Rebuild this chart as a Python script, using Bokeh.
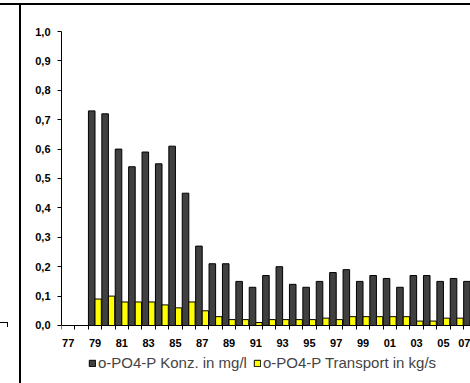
from bokeh.plotting import figure
from bokeh.models import (ColumnDataSource, Range1d, FixedTicker, Legend,
                          LegendItem, LinearAxis)
from bokeh.transform import dodge
from bokeh.embed import file_html
from bokeh.resources import INLINE

nan = float("nan")

years = ["77", "78", "79", "80", "81", "82", "83", "84", "85", "86",
         "87", "88", "89", "90", "91", "92", "93", "94", "95", "96",
         "97", "98", "99", "00", "01", "02", "03", "04", "05", "06", "07"]

konz = [nan, nan, 0.73, 0.72, 0.60, 0.54, 0.59, 0.55, 0.61, 0.45,
        0.27, 0.21, 0.21, 0.15, 0.13, 0.17, 0.20, 0.14, 0.13, 0.15,
        0.18, 0.19, 0.15, 0.17, 0.16, 0.13, 0.17, 0.17, 0.15, 0.16, 0.15]

transport = [nan, nan, 0.09, 0.10, 0.08, 0.08, 0.08, 0.07, 0.06, 0.08,
             0.05, 0.03, 0.02, 0.02, 0.01, 0.02, 0.02, 0.02, 0.02, 0.025,
             0.02, 0.03, 0.03, 0.03, 0.03, 0.03, 0.015, 0.015, 0.025, 0.025, 0.02]

y_ticks = [0.0, 0.1, 0.2, 0.3, 0.4, 0.5, 0.6, 0.7, 0.8, 0.9, 1.0]
y_tick_labels = ["0,0", "0,1", "0,2", "0,3", "0,4", "0,5",
                 "0,6", "0,7", "0,8", "0,9", "1,0"]

label_konz = "o-PO4-P Konz. in mg/l"
label_transport = "o-PO4-P Transport in kg/s"

FONT = "Liberation Sans"

idx = list(range(len(years)))
src = ColumnDataSource(dict(x=idx, konz=konz, transport=transport))

# frame lines of the surrounding document (page decoration, drawn by CSS)
page_lines = ("linear-gradient(#000,#000) 0px 3px / 470px 2px no-repeat, "
              "linear-gradient(#000,#000) 19px 3px / 2px 380px no-repeat, "
              "linear-gradient(#000,#000) 0px 322px / 8px 1px no-repeat, "
              "linear-gradient(#000,#000) 7px 322px / 1px 5px no-repeat, "
              "#ffffff")

p = figure(width=470, height=383, output_backend="svg", toolbar_location=None,
           x_range=Range1d(-0.5, 30.02), y_range=Range1d(-0.1973, 1.0),
           x_axis_location=None,
           min_border_left=61, min_border_right=0, min_border_top=31,
           min_border_bottom=0, outline_line_color=None,
           background_fill_alpha=0, border_fill_alpha=0,
           styles={"background": page_lines})
p.grid.visible = False

r1 = p.vbar(x=dodge("x", -0.245), top="konz", width=0.49, source=src,
            fill_color="#404040", line_color="black", line_width=1)
r2 = p.vbar(x=dodge("x", 0.235), top="transport", width=0.47, source=src,
            fill_color="#FFFF00", line_color="black", line_width=1)

# x axis at value 0: labels on every other year, tick marks on category boundaries
label_pos = idx[::2]
xa = LinearAxis(fixed_location=0)
xa.ticker = FixedTicker(ticks=label_pos, minor_ticks=[i - 0.5 for i in idx])
xa.major_label_overrides = {i: years[i] for i in label_pos}
xa.major_tick_line_color = None
xa.major_tick_out = 0
xa.major_tick_in = 0
xa.minor_tick_out = 4
xa.minor_tick_in = 0
xa.minor_tick_line_color = "black"
xa.axis_line_color = "black"
xa.major_label_text_font = FONT
xa.major_label_text_font_style = "bold"
xa.major_label_text_font_size = "11px"
xa.major_label_text_color = "black"
xa.major_label_standoff = 10
p.add_layout(xa, "below")

ya = p.yaxis[0]
ya.ticker = FixedTicker(ticks=y_ticks)
ya.bounds = (0, 1)
ya.major_label_overrides = {t: s for t, s in zip(y_ticks, y_tick_labels)}
ya.major_tick_out = 4
ya.major_tick_in = 0
ya.minor_tick_line_color = None
ya.axis_line_color = "black"
ya.major_tick_line_color = "black"
ya.major_label_text_font = FONT
ya.major_label_text_font_style = "bold"
ya.major_label_text_font_size = "11px"
ya.major_label_text_color = "black"
ya.major_label_standoff = 7

legend = Legend(items=[LegendItem(label=label_konz, renderers=[r1]),
                       LegendItem(label=label_transport, renderers=[r2])],
                orientation="horizontal", location=(27, 12),
                glyph_width=8, glyph_height=8, label_standoff=2, spacing=6,
                padding=2, margin=0, border_line_color=None,
                background_fill_alpha=0, label_text_font=FONT,
                label_text_font_size="15px", label_height=17)
p.add_layout(legend)

open("out.html", "w").write(file_html(p, INLINE))
